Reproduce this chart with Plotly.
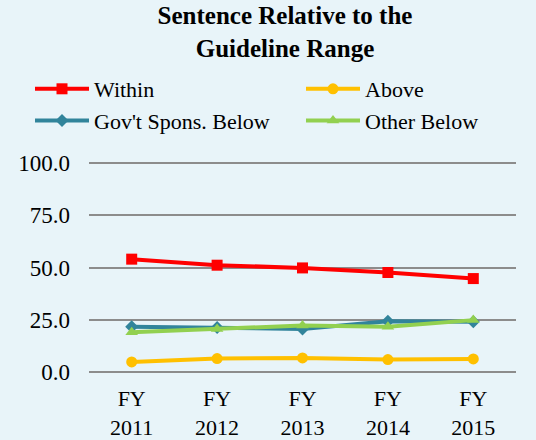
import plotly.graph_objects as go

years = ["FY<br>2011", "FY<br>2012", "FY<br>2013", "FY<br>2014", "FY<br>2015"]
within = [54.0, 51.1, 49.8, 47.6, 44.7]
above = [4.8, 6.4, 6.7, 5.9, 6.2]
govt_below = [21.6, 21.3, 20.6, 24.3, 24.0]
other_below = [19.0, 20.6, 22.2, 21.6, 24.8]
y_ticks = [0, 25, 50, 75, 100]
y_tick_labels = ["0.0", "25.0", "50.0", "75.0", "100.0"]

BG = "#E8F4F9"
FONT = "Liberation Serif"

series = [
    ("Within", within, "#FF0000", "square", 11, "legend"),
    ("Above", above, "#FFC000", "circle", 11, "legend2"),
    ("Gov't Spons. Below", govt_below, "#31849B", "diamond", 10, "legend"),
    ("Other Below", other_below, "#92D050", "triangle-up", 11, "legend2"),
]

fig = go.Figure()
for name, vals, color, sym, size, leg in series:
    fig.add_trace(go.Scatter(
        x=years, y=vals, name=name, mode="lines+markers",
        line=dict(color=color, width=4),
        marker=dict(symbol=sym, size=size, color=color),
        legend=leg,
    ))

legend_common = dict(
    orientation="v", xref="container", yref="container",
    xanchor="left", yanchor="top",
    font=dict(family=FONT, size=22), bgcolor="rgba(0,0,0,0)",
    tracegroupgap=0, itemwidth=54,
)

fig.update_layout(
    width=536, height=440,
    paper_bgcolor=BG, plot_bgcolor=BG,
    font=dict(family=FONT, size=23, color="#000000"),
    margin=dict(l=89, r=20, t=161, b=66, autoexpand=False),
    title=dict(
        text="<b>Sentence Relative to the<br>Guideline Range</b>",
        x=285 / 536, xanchor="center", xref="container",
        y=1 - 24 / 440, yanchor="top", yref="container",
        font=dict(family=FONT, size=25, color="#000000"),
        automargin=False,
    ),
    legend=dict(x=30 / 536, y=1 - 68 / 440, **legend_common),
    legend2=dict(x=301 / 536, y=1 - 68 / 440, **legend_common),
    showlegend=True,
)
fig.update_xaxes(
    type="category", range=[-0.5, 4.5], showgrid=False, showline=False,
    zeroline=False, ticks="", tickfont=dict(size=22), ticklabelstandoff=9,
)
fig.update_yaxes(
    range=[-1, 101], tickvals=y_ticks, ticktext=y_tick_labels,
    showgrid=True, gridcolor="#8C8C8C", gridwidth=2,
    zeroline=True, zerolinecolor="#8C8C8C", zerolinewidth=2,
    showline=False, ticks="", ticklabelstandoff=18, tickfont=dict(size=23),
)

fig.write_html(
    "out.html",
    config={"displayModeBar": False},
    post_script="document.body.style.margin='0';",
)
